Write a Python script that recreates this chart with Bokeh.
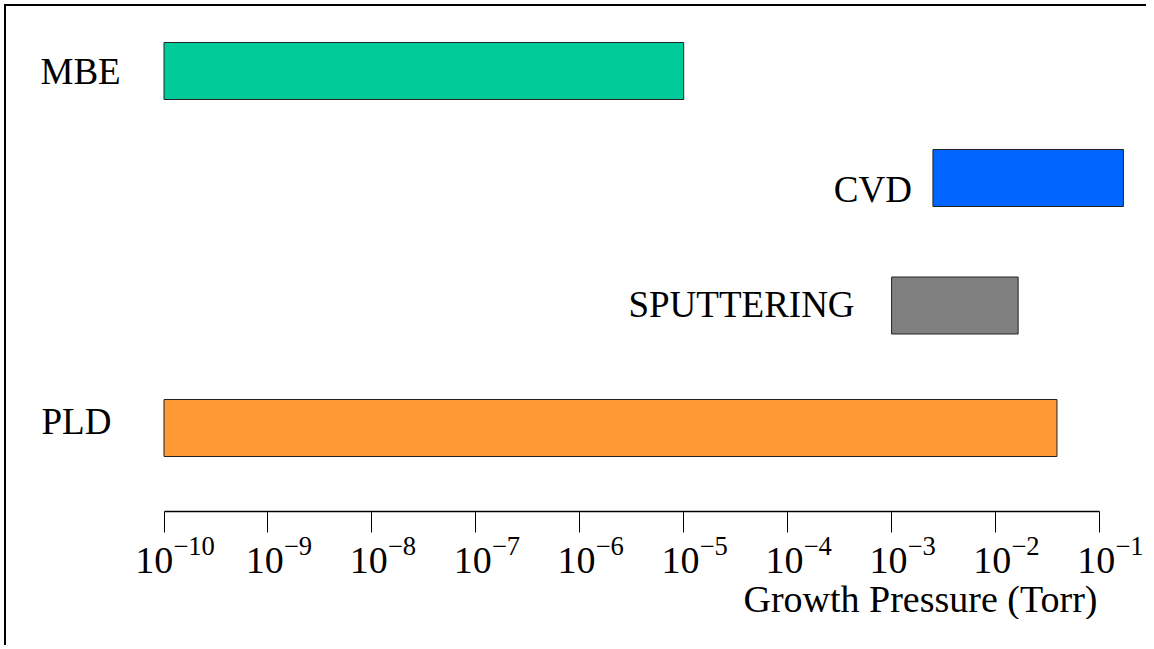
from bokeh.plotting import figure
from bokeh.models import (FixedTicker, Range1d, ColumnDataSource, Title, LogAxis,
                          LogScale, CustomJSTickFormatter)
from bokeh.core.properties import value
from bokeh.embed import file_html
from bokeh.resources import INLINE

# ---- data ----
methods = ["MBE", "CVD", "SPUTTERING", "PLD"]
p_low = [1e-10, 2.5e-3, 1e-3, 1e-10]
p_high = [1e-5, 1.7e-1, 1.65e-2, 3.9e-2]
tick_exponents = [-10, -9, -8, -7, -6, -5, -4, -3, -2, -1]
x_label = "Growth Pressure (Torr)"

# ---- styles / layout ----
colors = ["#00CC99", "#0066FF", "#808080", "#FF9933"]
row_center = [64.5, 171.5, 299.0, 421.5]   # screen-like row positions
bar_height = 57
label_align = ["left", "right", "right", "left"]
label_dx = [-123.5, -21, -37, -122.5]
label_dy = [0.5, 11.5, -1, -6.5]
FONT = "Liberation Serif"

FRAME_W, FRAME_H = 1140, 505
px_per_decade = 103.94
x0_px = 157.5
lo_exp = -10 - x0_px / px_per_decade
hi_exp = -10 + (FRAME_W - x0_px) / px_per_decade
label_shift_px = 11   # tick labels: "10" centred under the tick

p = figure(frame_width=FRAME_W, frame_height=FRAME_H,
           x_axis_type="log", y_axis_location=None,
           x_range=Range1d(10 ** lo_exp, 10 ** hi_exp), y_range=Range1d(FRAME_H, 0),
           output_backend="svg", toolbar_location=None,
           min_border_left=0, min_border_right=0, min_border_top=0, min_border_bottom=0)
p.grid.visible = False
p.outline_line_color = None
p.background_fill_color = "white"
p.border_fill_color = "white"
p.styles = {"margin-left": "4px", "margin-top": "4px", "padding-bottom": "26px",
            "border-left": "2px solid black", "border-top": "2px solid black"}

src = ColumnDataSource(dict(method=methods, low=p_low, high=p_high, y=row_center,
                            color=colors, align=label_align, dx=label_dx, dy=label_dy))

p.hbar(y="y", left="low", right="high", height=bar_height, fill_color="color",
       line_color="#222222", line_width=1, source=src)

p.text(x="low", y="y", text="method", text_align="align", x_offset="dx", y_offset="dy",
       text_baseline="alphabetic", text_font=value(FONT), text_font_size="37px",
       text_color="black", source=src)

ticks = [10.0 ** e for e in tick_exponents]

# axis 1: line and tick marks
ax = p.xaxis[0]
ax.ticker = FixedTicker(ticks=ticks, minor_ticks=[])
ax.bounds = (ticks[0], ticks[-1])
ax.axis_line_color = "black"
ax.axis_line_width = 1.5
ax.major_tick_line_color = "black"
ax.major_tick_line_width = 1
ax.major_tick_in = 0
ax.major_tick_out = 21
ax.minor_tick_in = 0
ax.minor_tick_out = 0
ax.formatter = CustomJSTickFormatter(code="return ''")
ax.major_label_text_font_size = "0px"
ax.major_label_standoff = 0

# axis 2: tick labels (10 with superscript exponent)
d = label_shift_px / px_per_decade
p.extra_x_ranges = {"labels": Range1d(10 ** (lo_exp - d), 10 ** (hi_exp - d))}
p.extra_x_scales = {"labels": LogScale()}
ax2 = LogAxis(x_range_name="labels", ticker=FixedTicker(ticks=ticks, minor_ticks=[]))
ax2.axis_line_color = None
ax2.major_tick_in = 0
ax2.major_tick_out = 0
ax2.minor_tick_in = 0
ax2.minor_tick_out = 0
ax2.major_label_text_font = FONT
ax2.major_label_text_font_size = "38px"
ax2.major_label_text_color = "black"
ax2.major_label_standoff = 4
p.add_layout(ax2, "below")

p.add_layout(Title(text=x_label, align="right", offset=49, standoff=0,
                   text_font=FONT, text_font_size="38px", text_font_style="normal",
                   text_color="black"), "below")

open("out.html", "w").write(file_html(p, INLINE))
